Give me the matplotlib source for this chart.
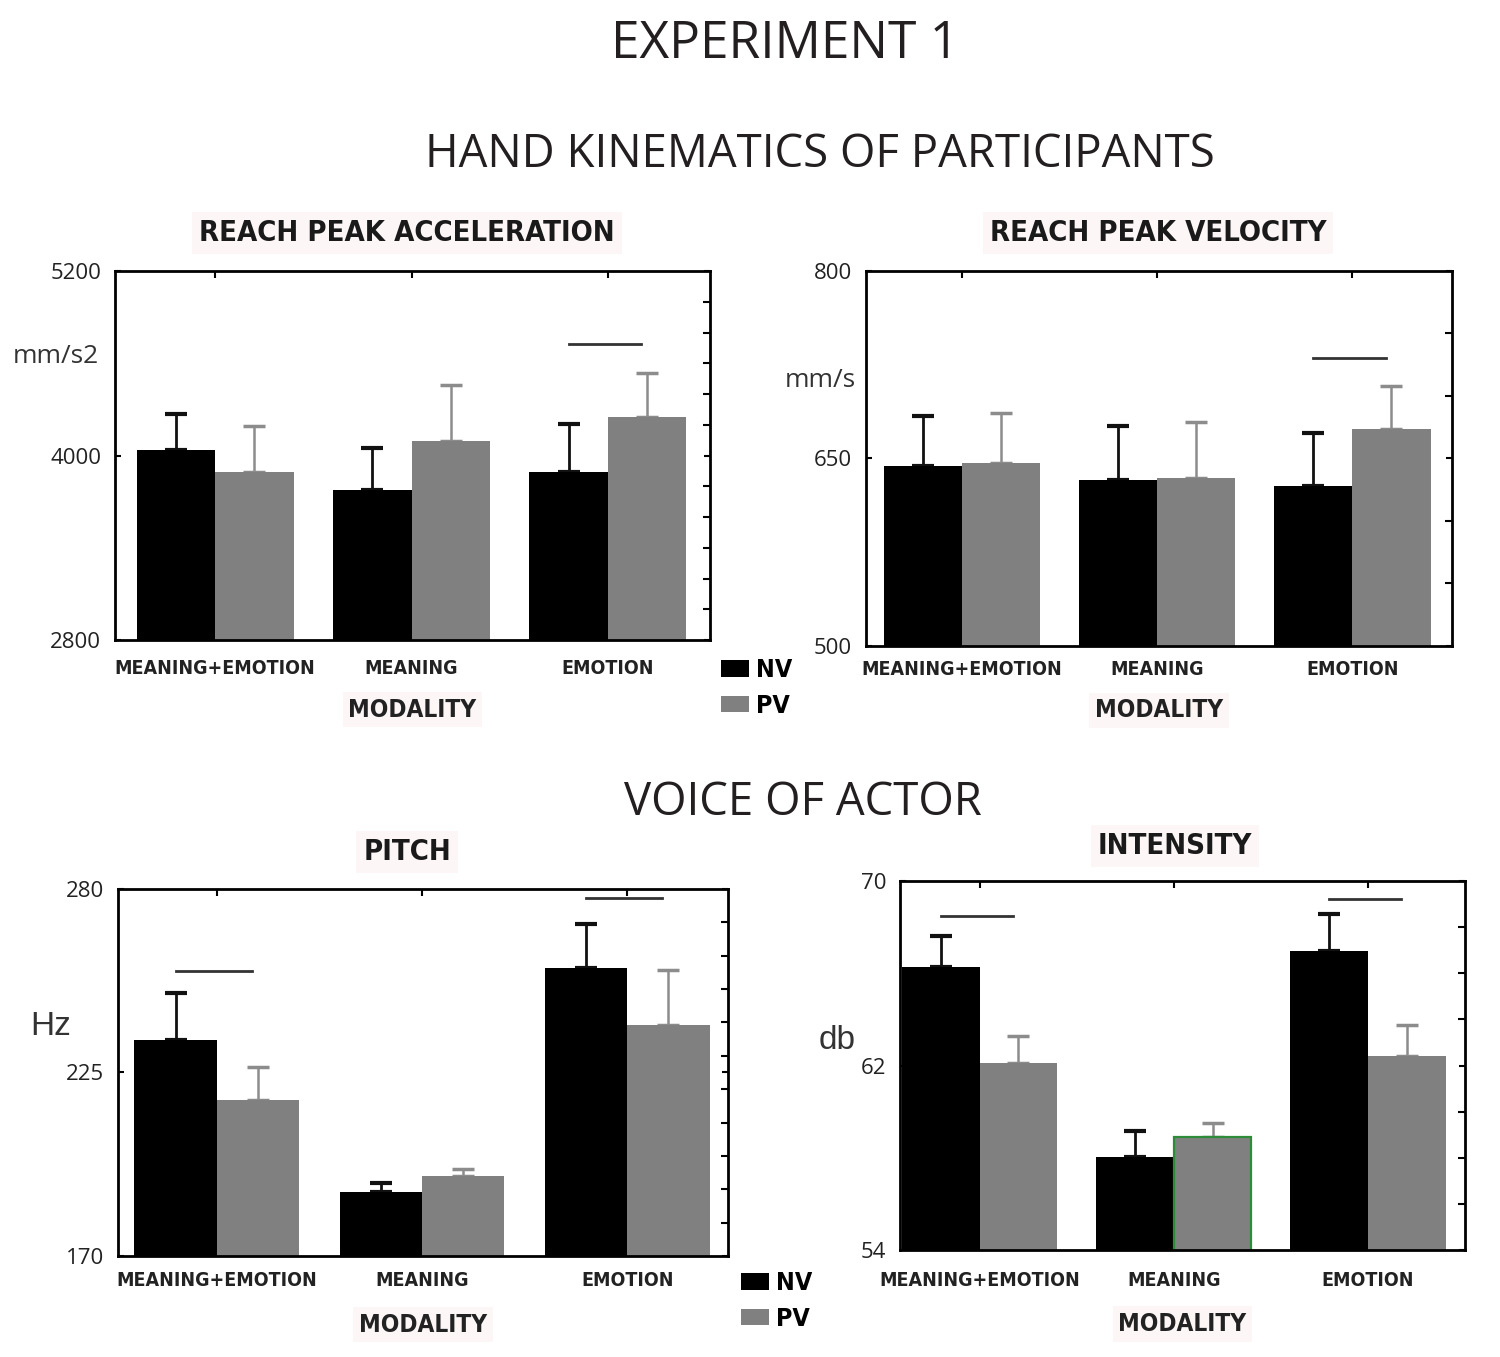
import matplotlib
matplotlib.use('Agg')
import matplotlib.pyplot as plt
from matplotlib.patches import Patch
from matplotlib.ticker import MultipleLocator

# categories shared by all four panels
categories = ["MEANING+EMOTION", "MEANING", "EMOTION"]

# reach peak acceleration (mm/s2)
accel_nv = [4033, 3778, 3894]
accel_nv_err = [239, 272, 313]
accel_pv = [3891, 4093, 4252]
accel_pv_err = [300, 365, 287]
accel_sig = [(2, 4724)]

# reach peak velocity (mm/s)
vel_nv = [644, 633, 628]
vel_nv_err = [40, 43, 42]
vel_pv = [646, 634.5, 673.6]
vel_pv_err = [40, 45, 34.5]
vel_sig = [(2, 730)]

# pitch (Hz)
pitch_nv = [234.8, 189.1, 256.2]
pitch_nv_err = [13.9, 2.7, 13.4]
pitch_pv = [216.8, 194.1, 239.1]
pitch_pv_err = [9.7, 2.0, 16.6]
pitch_sig = [(0, 255.5), (2, 277.4)]

# intensity (db)
int_nv = [66.29, 58.05, 66.97]
int_nv_err = [1.33, 1.13, 1.6]
int_pv = [62.1, 58.9, 62.42]
int_pv_err = [1.2, 0.6, 1.34]
int_sig = [(0, 68.5), (2, 69.24)]

W, H = 1500, 1357
NARROW = dict(family=['DejaVu Sans'], fontstretch='condensed', fontweight='bold')
PLAIN = ['Open Sans', 'DejaVu Sans']
NV_COLOR = "#000000"
PV_COLOR = "#808080"
BAND = "#fcf6f6"

plt.rcParams['font.family'] = PLAIN

fig = plt.figure(figsize=(W / 100, H / 100), dpi=100)


def px_axes(x0, y0, x1, y1):
    return fig.add_axes([x0 / W, 1 - y1 / H, (x1 - x0) / W, (y1 - y0) / H])


def ftext(x, y, s, **kw):
    fig.text(x / W, 1 - y / H, s, ha="center", va="center", **kw)


def draw_panel(ax, nv, nv_err, pv, pv_err, sig, ylim, minor, xlim, ylabel,
               ylabel_xy, label_pad, xlabel_pad, pv_edge=None):
    x = list(range(len(categories)))
    w = 0.4
    ax.bar([i - w / 2 for i in x], nv, width=w, color=NV_COLOR, zorder=2)
    bars = ax.bar([i + w / 2 for i in x], pv, width=w, color=PV_COLOR, zorder=2)
    if pv_edge is not None:
        bars[1].set_edgecolor(pv_edge)
        bars[1].set_linewidth(1.6)
    ax.errorbar([i - w / 2 for i in x], nv, yerr=[[0] * 3, nv_err], fmt="none",
                ecolor="#111111", elinewidth=2, capsize=8, capthick=3, zorder=1)
    ax.errorbar([i + w / 2 for i in x], pv, yerr=[[0] * 3, pv_err], fmt="none",
                ecolor="#8c8c8c", elinewidth=1.8, capsize=8, capthick=2.5, zorder=1)
    for g, yv in sig:
        ax.plot([g - 0.2, g + 0.17], [yv, yv], color="#333333", lw=2, zorder=3)

    ax.set_xlim(*xlim)
    ax.set_ylim(*ylim)
    ax.set_yticks([ylim[0], (ylim[0] + ylim[1]) / 2, ylim[1]])
    ax.yaxis.set_minor_locator(MultipleLocator(minor))
    ax.set_xticks(x)
    ax.set_xticklabels(categories, fontsize=14, color="#222222", **NARROW)
    for lab in ax.get_yticklabels():
        lab.set_family(PLAIN)
        lab.set_fontsize(16)
        lab.set_color("#222222")
    ax.tick_params(axis="x", top=True, bottom=False, direction="in",
                   length=5, width=1.5, pad=label_pad)
    ax.tick_params(axis="y", which="major", left=True, right=True,
                   direction="in", length=4, width=1.5, pad=10)
    ax.tick_params(axis="y", which="minor", left=False, right=True,
                   direction="in", length=5, width=1.5)
    for sp in ax.spines.values():
        sp.set_linewidth(2)
    ax.set_xlabel("MODALITY", fontsize=17.5, color="#222222", labelpad=xlabel_pad,
                  bbox=dict(facecolor=BAND, edgecolor="none", pad=4), **NARROW)
    ax.set_ylabel(ylabel, rotation=0, fontsize=19, color="#333333",
                  family=PLAIN, ha="center", va="center")
    ax.yaxis.set_label_coords(*ylabel_xy)


ax1 = px_axes(115, 271, 710, 640)
draw_panel(ax1, accel_nv, accel_nv_err, accel_pv, accel_pv_err, accel_sig,
           (2800, 5200), 200, (-0.51, 2.52), "mm/s2", (-0.10, 0.767), 14, 14)

ax2 = px_axes(866, 271, 1452, 646)
draw_panel(ax2, vel_nv, vel_nv_err, vel_pv, vel_pv_err, vel_sig,
           (500, 800), 50, (-0.49, 2.51), "mm/s", (-0.078, 0.707), 10, 14)

ax3 = px_axes(118, 889, 728, 1256)
draw_panel(ax3, pitch_nv, pitch_nv_err, pitch_pv, pitch_pv_err, pitch_sig,
           (170, 280), 10, (-0.48, 2.49), "Hz", (-0.111, 0.624), 11, 16)

ax4 = px_axes(900, 881, 1465, 1250)
draw_panel(ax4, int_nv, int_nv_err, int_pv, int_pv_err, int_sig,
           (54, 70), 2, (-0.41, 2.5), "db", (-0.111, 0.569), 15, 16,
           pv_edge="#2e8b3a")

for a in (ax3, ax4):
    a.yaxis.label.set_fontsize(24)
    a.yaxis.label.set_family(['Liberation Sans', 'DejaVu Sans'])

# headings
ftext(785, 45, "EXPERIMENT 1", fontsize=37, color="#231f20")
ftext(820, 155, "HAND KINEMATICS OF PARTICIPANTS", fontsize=32.8, color="#231f20")
ftext(803, 803, "VOICE OF ACTOR", fontsize=32.8, color="#231f20")

title_kw = dict(fontsize=21, color="#1a1a1a",
                bbox=dict(facecolor=BAND, edgecolor="none", pad=5), **NARROW)
ftext(407, 233, "REACH PEAK ACCELERATION", **title_kw)
ftext(1158, 233, "REACH PEAK VELOCITY", **title_kw)
ftext(407, 852, "PITCH", **title_kw)
ftext(1175, 846, "INTENSITY", **title_kw)

# legends
handles = [Patch(facecolor=NV_COLOR, label="NV"),
           Patch(facecolor=PV_COLOR, label="PV")]
leg_kw = dict(loc="center left", frameon=False, handlelength=1.12,
              handleheight=0.64, handletextpad=0.3, labelspacing=0.45,
              prop=dict(family='DejaVu Sans', stretch='condensed',
                        weight="bold", size=18))
fig.legend(handles=handles, bbox_to_anchor=(698 / W, 1 - 688 / H), **leg_kw)
fig.legend(handles=handles, bbox_to_anchor=(718 / W, 1 - 1301 / H), **leg_kw)

plt.savefig("out.png", dpi=100)
plt.close(fig)
